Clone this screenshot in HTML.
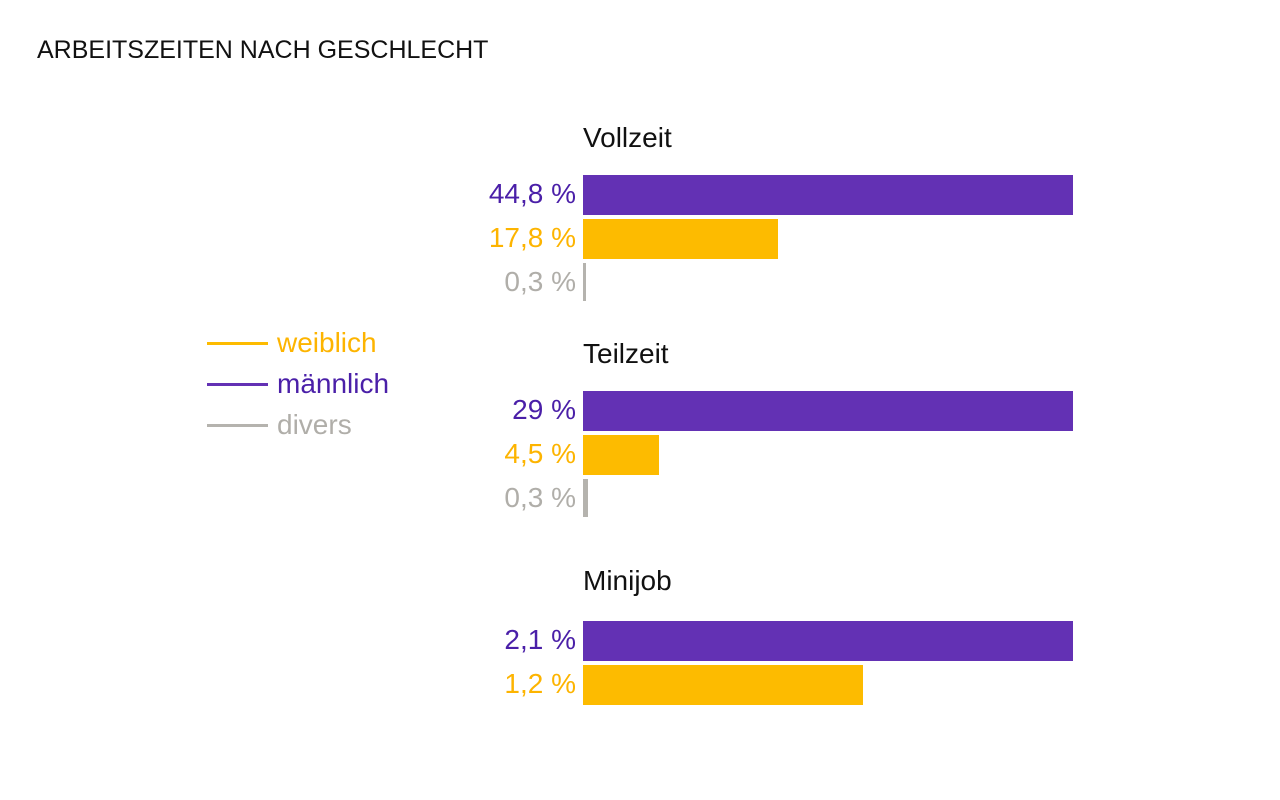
<!DOCTYPE html>
<html><head><meta charset="utf-8">
<style>
body{margin:0;width:1280px;height:800px;background:#fff;font-family:"Liberation Sans",sans-serif;position:relative;overflow:hidden}
.t{position:absolute;white-space:nowrap;font-weight:normal}
</style></head>
<body>
<div class="t" style="left:37px;top:36px;font-size:25px;color:#111;letter-spacing:0px">ARBEITSZEITEN NACH GESCHLECHT</div>
<div id="legend"></div>
<div id="chart"></div>
<script>
const groups=["Vollzeit","Teilzeit","Minijob"];
const maennlich=[44.8,29,2.1];
const weiblich=[17.8,4.5,1.2];
const divers=[0.3,0.3,null];
const labelsM=["44,8 %","29 %","2,1 %"];
const labelsW=["17,8 %","4,5 %","1,2 %"];
const labelsD=["0,3 %","0,3 %",null];

const colors={m:"#6331b4",w:"#fdbb00",d:"#b5b3ae"};
const textColors={m:"#4a1fa8",w:"#fdb400",d:"#b0aea9"};
const groupTop=[122,338,565];
const barX=583,fullW=490,barH=40;
const chart=document.getElementById('chart');
function scale(v,max){return v/max*fullW;}
groups.forEach((g,i)=>{
  const max=Math.max(maennlich[i],weiblich[i],divers[i]||0);
  const lab=document.createElement('div');
  lab.className='t';
  
  
  lab.style.cssText=`left:${barX}px;top:${groupTop[i]}px;font-size:28px;color:#111`;
  lab.textContent=g;chart.appendChild(lab);
  const rows=[['m',maennlich[i],labelsM[i]],['w',weiblich[i],labelsW[i]],['d',divers[i],labelsD[i]]];
  const y0=groupTop[i]+(i==2?56:53);
  rows.forEach((r,j)=>{
    if(r[1]==null)return;
    const y=y0+j*44;
    const b=document.createElement('div');
    
    
    const w=Math.max(3,scale(r[1],max));
    b.style.cssText=`position:absolute;left:${barX}px;top:${y}px;width:${w}px;height:${r[0]=='d'?38:barH}px;background:${colors[r[0]]}`;
    chart.appendChild(b);
    const v=document.createElement('div');
    v.className='t';
    
    
    v.style.cssText=`right:${1280-576}px;top:${y+3}px;font-size:28px;color:${textColors[r[0]]}`;
    v.textContent=r[2];chart.appendChild(v);
  });
});
const legendItems=[["weiblich","w"],["männlich","m"],["divers","d"]];
const lg=document.getElementById('legend');
legendItems.forEach((l,i)=>{
  const y=343+i*41;
  const line=document.createElement('div');
  
  
  line.style.cssText=`position:absolute;left:207px;top:${y-1}px;width:61px;height:3px;background:${colors[l[1]]}`;
  lg.appendChild(line);
  const t=document.createElement('div');
  t.className='t';
  
  
  t.style.cssText=`left:277px;top:${y-16}px;font-size:28px;color:${textColors[l[1]]}`;
  t.textContent=l[0];lg.appendChild(t);
});
</script>
</body></html>
